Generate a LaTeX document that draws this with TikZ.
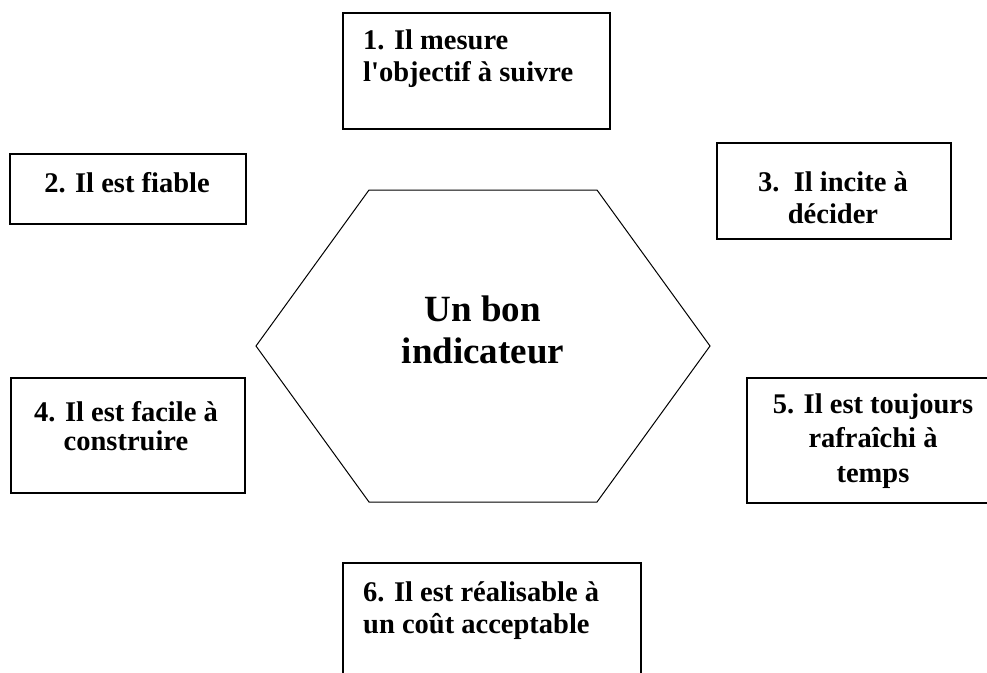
\documentclass[tikz,border=0pt]{standalone}
\usepackage{fontspec}
\setmainfont{Liberation Serif}
\usepackage{tikz}
\tikzset{
	cadre/.style={draw,line width=1.7pt,inner sep=0pt,anchor=north west},
	texte/.style={font=\bfseries\fontsize{28.5}{32.3}\selectfont,inner sep=0pt},
	titre/.style={font=\bfseries\fontsize{37}{41.6}\selectfont,inner sep=0pt,align=center}
}

\begin{document}
\begin{tikzpicture}[x=1pt,y=-1pt]
			\useasboundingbox (0,0) rectangle (987,672);
			\clip (0,0) rectangle (987,672);
			% les six cadres
			\node[cadre,minimum width=267pt,minimum height=116pt] (c1) at (342,12) {};
			\node[cadre,minimum width=236pt,minimum height=70pt] (c2) at (9,153) {};
			\node[cadre,minimum width=234pt,minimum height=96pt] (c3) at (716,142) {};
			\node[cadre,minimum width=234pt,minimum height=115pt] (c4) at (10,377) {};
			\node[cadre,minimum width=260pt,minimum height=125pt] (c5) at (746,377) {};
			\node[cadre,minimum width=298pt,minimum height=140pt] (c6) at (342,562) {};
			% base = ligne du bas
			\node[texte,anchor=base west,align=left] (t1) at (363,81.6) {1. Il mesure\\l\textquotesingle objectif à suivre};
			\node[texte,anchor=base] (t2) at (127,192) {2. Il est fiable};
			\node[texte,anchor=base,align=center] (t3) at (833,223.5) {3.\ \ Il incite à\\décider};
			\node[texte,anchor=base,align=center,font=\bfseries\fontsize{28.5}{29}\selectfont] (t4) at (126,450) {4. Il est facile à\\construire};
			\node[texte,anchor=base,align=center,font=\bfseries\fontsize{28.5}{34.5}\selectfont] (t5) at (873,482) {5. Il est toujours\\rafraîchi à\\temps};
			\node[texte,anchor=base west,align=left] (t6) at (363,633.5) {6. Il est réalisable à\\un coût acceptable};
			% l'hexagone
			\draw[line width=1pt] (256,346) -- (369,190) -- (597,190) -- (710,346) -- (597,502) -- (369,502) -- cycle;
			\node[titre,anchor=base] (bon) at (483,363.5) {Un bon\\indicateur};
\end{tikzpicture}
\end{document}
